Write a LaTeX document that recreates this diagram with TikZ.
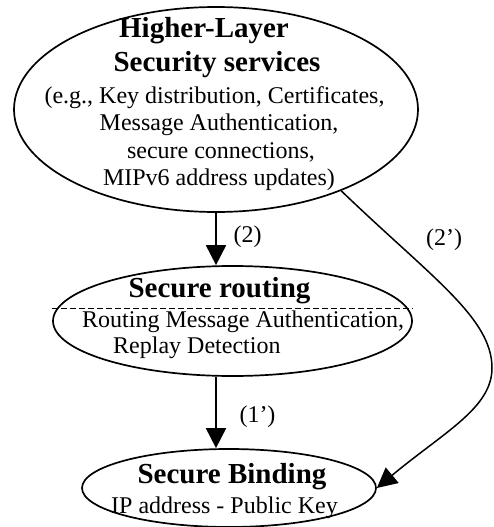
\documentclass[tikz,border=0pt]{standalone}
\usepackage{fontspec}
\setmainfont{Liberation Serif}
\usetikzlibrary{arrows.meta,shapes.geometric}
\begin{document}
\begin{tikzpicture}[x=1pt,y=-1pt,
  ell/.style={draw,ellipse,line width=1.7pt,inner sep=0pt},
  hd/.style={font=\fontsize{29}{33}\selectfont\bfseries,inner sep=0pt,anchor=base},
  tx/.style={font=\fontsize{24}{27}\selectfont,inner sep=0pt,anchor=base},
  arr/.style={line width=1.8pt,-{Triangle[length=20pt,width=20pt]}},
  dl/.style={line width=1.5pt,dash pattern=on 6pt off 3pt}]
\useasboundingbox (0,0) rectangle (493,527);
% ellipses
\node[ell,minimum width=404pt,minimum height=205pt] (hl) at (216,109.5) {};
\node[ell,minimum width=359pt,minimum height=110pt] (sr) at (232.5,321) {};
\node[ell,minimum width=294pt,minimum height=78pt] (sb) at (229,488) {};
% top texts
\node[hd] (h1) at (204,37.5) {Higher-Layer};
\node[hd] (h2) at (217,71.7) {Security services};
\node[tx] (t1) at (214.5,103) {(e.g., Key distribution, Certificates,};
\node[tx] (t2) at (219,130.5) {Message Authentication,};
\node[tx] (t3) at (221,158) {secure connections,};
\node[tx] (t4) at (219,185.5) {MIPv6 address updates)};
% routing texts
\node[hd] (r1) at (219.5,297) {Secure routing};
\node[tx,anchor=base west] (r2) at (82,327) {Routing Message Authentication,};
\node[tx,anchor=base west] (r3) at (113,353.5) {Replay Detection};
\coordinate (dy) at (0,308.5);
\draw[dl] (sr.west |- dy) -- (sr.east |- dy);
% binding texts
\node[hd] (b1) at (232,483) {Secure Binding};
\node[tx] (b2) at (224.5,513) {IP address - Public Key};
% connectors
\coordinate (ax) at (216,0);
\draw[arr] (ax |- hl.south) -- (ax |- sr.north);
\draw[arr] (ax |- sr.south) -- (ax |- sb.north);
\coordinate (cr) at (492,368);
\draw[line width=1.5pt,-{Triangle[length=20pt,width=20pt]}] (hl.-33) .. controls (432,278) and (492,318) .. (cr) .. controls (492,408) and (444,432) .. (sb.east);
% labels
\node[tx] (l2) at (247.5,242) {(2)};
\node[tx] (l1) at (257.5,422) {(1’)};
\node[tx] (l3) at (444,245) {(2’)};
\end{tikzpicture}
\end{document}
